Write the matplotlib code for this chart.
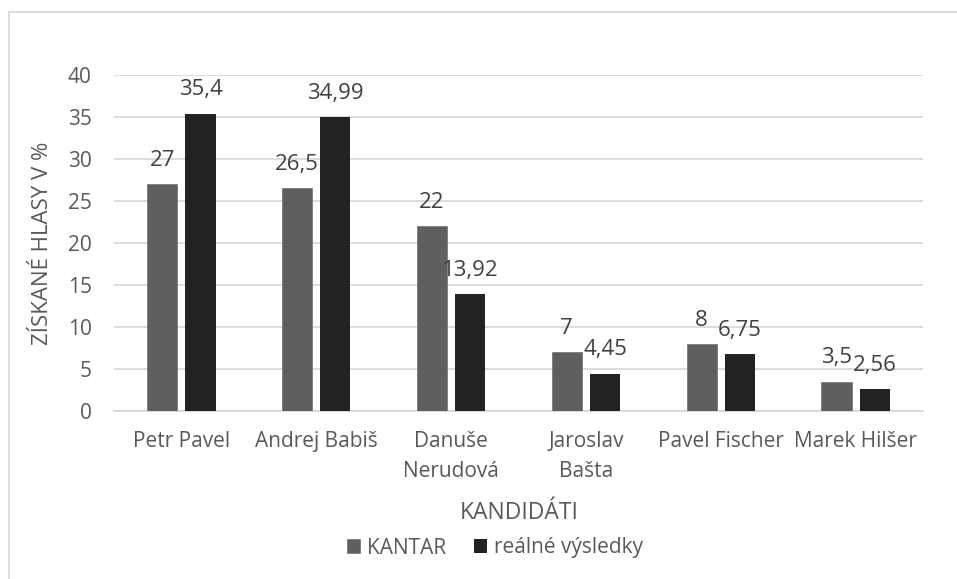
import matplotlib
matplotlib.use("Agg")
import matplotlib.pyplot as plt
import numpy as np
from matplotlib.patches import Rectangle

categories = ["Petr Pavel", "Andrej Babiš", "Danuše\nNerudová", "Jaroslav\nBašta", "Pavel Fischer", "Marek Hilšer"]
kantar = [27, 26.5, 22, 7, 8, 3.5]
realne = [35.4, 34.99, 13.92, 4.45, 6.75, 2.56]
kantar_lbl = ["27", "26,5", "22", "7", "8", "3,5"]
realne_lbl = ["35,4", "34,99", "13,92", "4,45", "6,75", "2,56"]
yticks = [0, 5, 10, 15, 20, 25, 30, 35, 40]

plt.rcParams['font.family'] = ['Open Sans', 'DejaVu Sans']
W, H = 957, 579
fig = plt.figure(figsize=(W/100, H/100), dpi=100)
fig.patches.append(Rectangle((9/W, -0.1), 1.2, (1 - 12/H) + 0.1, transform=fig.transFigure,
                             fill=False, edgecolor="#d9d9d9", linewidth=1.3))

ax = fig.add_axes([114/W, 1 - 411/H, (923-114)/W, (411-75)/H])
x = np.arange(len(categories))
bw = 0.223
off = bw/2 + 0.03
c1, c2 = "#5f5f5f", "#222222"
b1 = ax.bar(x - off, kantar, bw, color=c1, edgecolor="#7a7a7a", linewidth=0.6, label="KANTAR", zorder=3)
b2 = ax.bar(x + off, realne, bw, color=c2, label="reálné výsledky", zorder=3)
for xi, v, l in zip(x - off, kantar, kantar_lbl):
    ax.annotate(l, (xi, v), xytext=(0, 9.5), textcoords="offset points", ha="center", va="bottom",
                fontsize=16, color="#404040")
for xi, v, l in zip(x + off, realne, realne_lbl):
    ax.annotate(l, (xi, v), xytext=(0, 9.5), textcoords="offset points", ha="center", va="bottom",
                fontsize=16, color="#404040")

ax.set_xlim(-0.5, len(categories) - 0.5)
ax.set_ylim(0, 40)
ax.set_yticks(yticks)
ax.set_yticklabels([str(t) for t in yticks])
ax.set_xticks(x)
ax.set_xticklabels(categories, linespacing=1.55)
ax.tick_params(axis="both", length=0, labelsize=15, colors="#595959")
ax.tick_params(axis="y", pad=16)
ax.tick_params(axis="x", pad=14.5)
ax.grid(axis="y", color="#d9d9d9", linewidth=1.3, zorder=0)
for s in ["top", "right", "left"]:
    ax.spines[s].set_visible(False)
ax.spines["bottom"].set_color("#d9d9d9")
ax.spines["bottom"].set_linewidth(1.3)
ax.set_ylabel("ZÍSKANÉ HLASY V %", fontsize=16, color="#595959")
ax.yaxis.set_label_coords(-0.075, 0.5)

fig.text(519/W, 1 - 513/H, "KANDIDÁTI", ha="center", va="center", fontsize=16.5, color="#595959")
fig.legend(handles=[b1, b2], loc="center", bbox_to_anchor=(495/W, 1 - 548/H), ncol=2, frameon=False,
           fontsize=15, labelcolor="#595959", handlelength=0.65, handleheight=0.65,
           handletextpad=0.35, columnspacing=1.3)

fig.savefig("out.png", dpi=100)
